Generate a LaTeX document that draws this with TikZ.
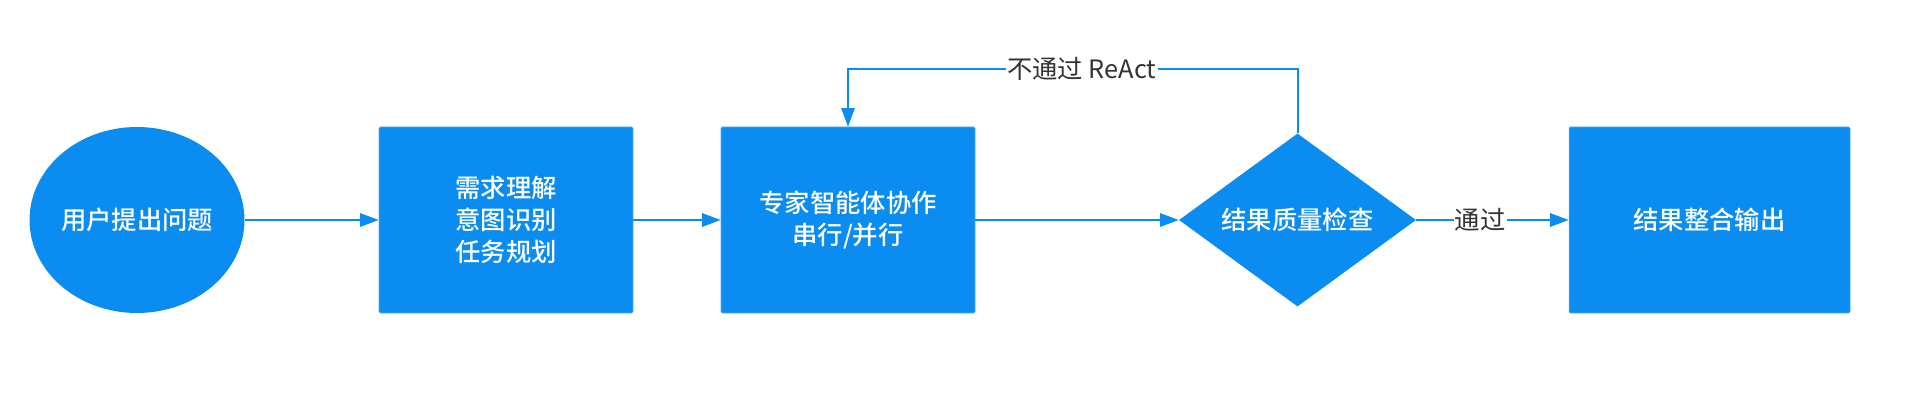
\documentclass[tikz,border=0pt]{standalone}
\usepackage{fontspec}
\setmainfont{Noto Sans CJK SC}
\newfontfamily\boxfont{Noto Sans CJK SC Medium}
\usetikzlibrary{shapes.geometric,arrows.meta}
\definecolor{flowblue}{HTML}{0A8CF0}
\definecolor{labelgray}{HTML}{333333}
\tikzset{
    >={Triangle[length=14pt,width=10pt]},
    every edge/.style={draw,->,flowblue,line width=1.5pt}
}

\begin{document}
\begin{tikzpicture}[x=0.75pt,y=-0.75pt,
                    font=\fontsize{19pt}{24pt}\selectfont,
                    block/.style={rectangle,fill=flowblue,draw=flowblue!70!white,rounded corners=1pt,
                                  text=white,align=center,inner sep=0pt,font=\boxfont\fontsize{19pt}{24pt}\selectfont,
                                  minimum width=190.5pt,minimum height=139.5pt},
                    start/.style={ellipse,fill=flowblue,text=white,inner sep=0pt,font=\boxfont\fontsize{19pt}{24pt}\selectfont,
                                  minimum width=159pt,minimum height=139.5pt},
                    decision/.style={diamond,fill=flowblue,text=white,inner sep=0pt,aspect=1.37,
                                  font=\boxfont\fontsize{19pt}{24pt}\selectfont,
                                  minimum width=177.75pt,minimum height=129.75pt},
                    flowlabel/.style={fill=white,text=labelgray,inner sep=1pt}]

\useasboundingbox (0,0) rectangle (1906,406);

% Nodes
\node[start] (ask) at (137,220) {用户提出问题};
\node[block] (plan) at (506,220) {需求理解\\意图识别\\任务规划};
\node[block] (expert) at (848,220) {专家智能体协作\\串行/并行};
\node[decision] (check) at (1297.5,220) {结果质量检查};
\node[block,minimum width=210.75pt] (output) at (1709.5,220) {结果整合输出};
\coordinate (loop) at (1073,69);

% Edges
\path (ask) edge (plan);
\path (plan) edge (expert);
\path (expert) edge (check);
\path (check) edge node[flowlabel,pos=0.42] {通过} (output);
\draw[->,flowblue,line width=1.5pt] (check.north) |- node[flowlabel,pos=0.74] {不通过 ReAct}
    (expert.north |- loop) -- (expert.north);

\end{tikzpicture}
\end{document}
